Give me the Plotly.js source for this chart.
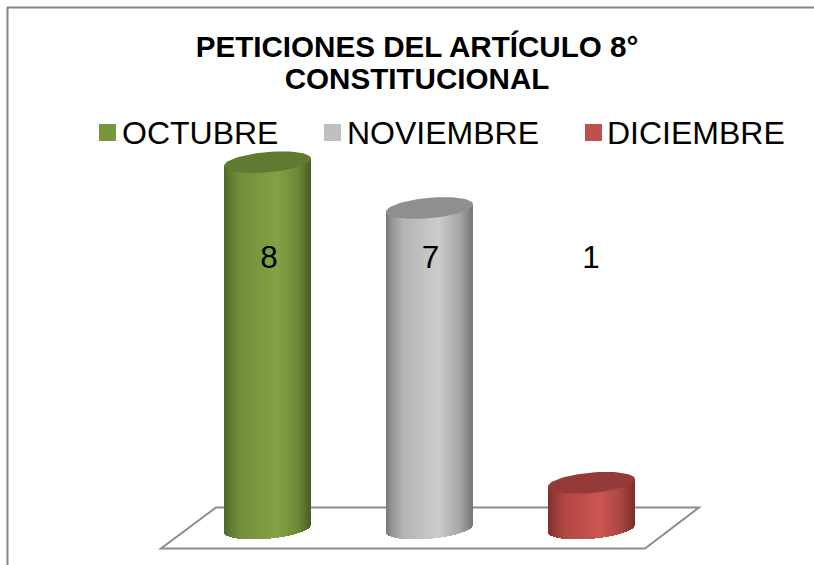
<!DOCTYPE html>
<html>
<head>
<meta charset="utf-8">
<script src="https://cdn.plot.ly/plotly-3.0.1.min.js"></script>
<style>html,body{margin:0;padding:0;background:#fff;overflow:hidden}</style>
</head>
<body>
<div id="chart" style="width:814px;height:565px"></div>
<script>
// ---- data ----
const months = ["OCTUBRE", "NOVIEMBRE", "DICIEMBRE"];
const values = [8, 7, 1];
const chartTitle = "PETICIONES DEL ARTÍCULO 8°<br>CONSTITUCIONAL";

// ---- style ----
const legendColors = ["#7a963c", "#bfbfbf", "#c0504d"];
const capColors = ["#5f7a31", "#8f8f8f", "#943b39"];
const shadeStops = [
  [[0,"#4f6729"],[0.07,"#5f7b31"],[0.2,"#72903a"],[0.6,"#83a245"],[0.85,"#6c8a37"],[1,"#475c25"]],
  [[0,"#787878"],[0.07,"#969696"],[0.2,"#b4b4b4"],[0.6,"#cccccc"],[0.85,"#a6a6a6"],[1,"#727272"]],
  [[0,"#7d2f2c"],[0.07,"#953a37"],[0.2,"#b24744"],[0.6,"#cc5552"],[0.85,"#a84340"],[1,"#792d2a"]]
];
const legendIds = ["legend", "legend2", "legend3"];
const legendLeft = [87, 312, 572];
const keyLeft = [99, 324, 585];

// ---- geometry (one x unit = 162px, one y unit = 45.8px) ----
const PXX = 1/162, PXY = 1/45.8;
const HALF = 43.5;              // half-width of a cylinder, px
const RY = 10.2, SHEAR = 3.7;   // ellipse half-height and tilt, px
const xRange = [-267.5*PXX, (814-267.5)*PXX];
const yRange = [(528.6-565)*PXY, 528.6*PXY];
const labelLevel = 5.87;

function hex(c){return [1,3,5].map(i=>parseInt(c.slice(i,i+2),16));}
function shade(stops,t){
  for(let i=1;i<stops.length;i++){
    if(t<=stops[i][0]){
      const f=(t-stops[i-1][0])/(stops[i][0]-stops[i-1][0]);
      const a=hex(stops[i-1][1]), b=hex(stops[i][1]);
      return "rgb("+a.map((v,k)=>Math.round(v+(b[k]-v)*f)).join(",")+")";
    }
  }
  return stops[stops.length-1][1];
}

const traces = [];
values.forEach((v,s)=>{
  const xs=[],bases=[],hs=[],cols=[];
  for(let p=-HALF;p<HALF;p++){
    const dx=(p+0.5)/HALF;
    const tilt=SHEAR*dx;
    const low=(-RY*Math.sqrt(1-dx*dx)+tilt)*PXY;
    const top=v+tilt*PXY;
    xs.push(s+(p+0.5)*PXX); bases.push(low); hs.push(top-low);
    cols.push(shade(shadeStops[s],(dx+1)/2));
  }
  traces.push({type:"bar",x:xs,y:hs,base:bases,width:PXX,showlegend:false,hoverinfo:"skip",
    marker:{color:cols,line:{width:0}}});
});
values.forEach((v,s)=>{
  const cx=[],cy=[];
  for(let d=0;d<=72;d++){
    const t=d/72*2*Math.PI;
    cx.push(s+HALF*Math.cos(t)*PXX);
    cy.push(v+(SHEAR*Math.cos(t)+RY*Math.sin(t))*PXY);
  }
  traces.push({type:"scatter",mode:"lines",x:cx,y:cy,fill:"toself",fillcolor:capColors[s],
    line:{width:0,color:capColors[s]},showlegend:false,hoverinfo:"skip"});
});
months.forEach((m,s)=>{
  traces.push({type:"scatter",mode:"markers",name:m,x:[null],y:[null],legend:legendIds[s],
    marker:{symbol:"square",size:16,color:"rgba(0,0,0,0)"}});
});
traces.push({type:"scatter",mode:"text",x:months.map((m,i)=>i+[1.5,1,-0.5][i]*PXX),y:values.map(()=>labelLevel),
  text:values.map(String),textposition:"middle center",showlegend:false,hoverinfo:"skip",
  textfont:{family:"Liberation Sans",size:31.5,color:"#000"}});

const fx=p=>(p-267.5)*PXX, fy=p=>(528.6-p)*PXY;
const layout={
  width:814,height:565,autosize:false,
  margin:{l:0,r:0,t:0,b:0,pad:0},
  paper_bgcolor:"#fff",plot_bgcolor:"rgba(0,0,0,0)",
  barmode:"overlay",bargap:0,
  font:{family:"Liberation Sans",color:"#000"},
  title:{text:chartTitle.split("<br>").map(l=>'<span style="font-size:29.6px">'+l+'</span>').join("<br>"),
    x:417/814,xanchor:"center",y:1-57/565,yanchor:"middle",
    font:{family:"Liberation Sans",size:24.6,weight:700,color:"#000"}},
  xaxis:{range:xRange,visible:false,fixedrange:true},
  yaxis:{range:yRange,visible:false,fixedrange:true},
  shapes:[
    {type:"path",xref:"x",yref:"y",layer:"below",
     path:`M${fx(161)},${fy(548.5)}L${fx(216)},${fy(507.5)}L${fx(699)},${fy(507.5)}L${fx(645)},${fy(548.5)}Z`,
     line:{color:"#8c8c8c",width:2},fillcolor:"rgba(0,0,0,0)"},
    {type:"line",xref:"paper",yref:"paper",x0:7.5/814,x1:7.5/814,y0:0,y1:1-7/565,line:{color:"#868686",width:2}},
    {type:"line",xref:"paper",yref:"paper",x0:7/814,x1:1,y0:1-7.5/565,y1:1-7.5/565,line:{color:"#868686",width:2}}
  ].concat(keyLeft.map((k,s)=>({type:"rect",xref:"paper",yref:"paper",
     x0:k/814,x1:(k+17)/814,y0:1-141/565,y1:1-124/565,line:{width:0},fillcolor:legendColors[s]})))
};
legendIds.forEach((id,s)=>{
  layout[id]={orientation:"h",x:legendLeft[s]/814,xanchor:"left",y:1-132/565,yanchor:"middle",
    indentation:-5,
    font:{family:"Liberation Sans",size:32,color:"#000"},
    bgcolor:"rgba(0,0,0,0)",borderwidth:0,itemclick:false,itemdoubleclick:false};
});
Plotly.newPlot("chart",traces,layout,{displayModeBar:false,staticPlot:true});
</script>
</body>
</html>
